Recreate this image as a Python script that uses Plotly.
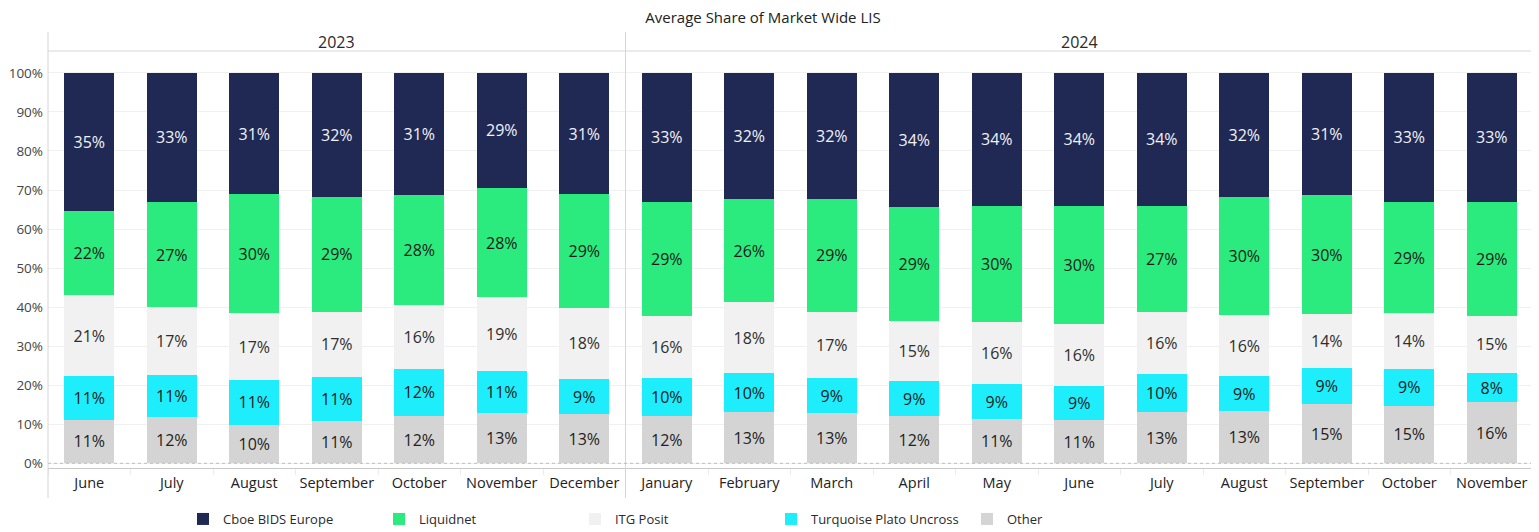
import plotly.graph_objects as go

# ---------------- data ----------------
years = ["2023"] * 7 + ["2024"] * 11
months = ["June", "July", "August", "September", "October", "November", "December",
          "January", "February", "March", "April", "May", "June", "July", "August",
          "September", "October", "November"]
other = [11.2, 11.8, 9.9, 10.9, 12.1, 12.8, 12.6,
         12.1, 13.1, 12.8, 12.1, 11.3, 11.1, 13.1, 13.3, 15.2, 14.8, 15.6]
turquoise = [11.2, 10.8, 11.4, 11.2, 12.1, 10.9, 9.0,
             9.7, 10.0, 9.0, 9.0, 9.0, 8.8, 9.9, 9.0, 9.1, 9.4, 7.6]
itg_posit = [20.6, 17.4, 17.2, 16.7, 16.3, 18.8, 18.2,
             16.0, 18.1, 17.0, 15.4, 16.0, 15.7, 15.8, 15.6, 13.9, 14.2, 14.6]
liquidnet = [21.6, 26.9, 30.4, 29.4, 28.2, 28.1, 29.1,
             29.1, 26.4, 28.9, 29.2, 29.7, 30.4, 27.2, 30.4, 30.4, 28.6, 29.1]
cboe = [35.4, 33.1, 31.1, 31.8, 31.3, 29.4, 31.1,
        33.1, 32.4, 32.3, 34.3, 34.0, 34.0, 34.0, 31.7, 31.4, 33.0, 33.1]
y_ticks = [0, 10, 20, 30, 40, 50, 60, 70, 80, 90, 100]

series = [
    ("Other", other, "#d4d4d4", "#222222"),
    ("Turquoise Plato Uncross", turquoise, "#1eedfb", "#1a1a1a"),
    ("ITG Posit", itg_posit, "#f0f1f0", "#2e2e2e"),
    ("Liquidnet", liquidnet, "#2beb7e", "#1a1a1a"),
    ("Cboe BIDS Europe", cboe, "#1f2954", "#f2f2f7"),
]

FONT = "Open Sans"
keys = [f"{y} {m}" for y, m in zip(years, months)]

fig = go.Figure()
for name, vals, color, tcolor in series:
    fig.add_trace(go.Bar(
        x=keys, y=vals, name=name,
        marker=dict(color=color, line=dict(width=0)),
        width=0.61,
        texttemplate="%{y:.0f}%",
        textposition="inside",
        insidetextanchor="middle",
        textangle=0,
        constraintext="none",
        textfont=dict(family=FONT, size=16, color=tcolor),
        hovertemplate=name + ": %{y:.1f}%<extra></extra>",
    ))

n2023 = years.count("2023")
n_all = len(years)
line_col = "#d6d6d6"

shapes = [
    # header bottom line
    dict(type="line", xref="paper", yref="paper", x0=0, x1=1, y0=1, y1=1,
         line=dict(color=line_col, width=1)),
    # panel verticals
    dict(type="line", xref="paper", yref="paper", x0=0, x1=0, y0=-0.072, y1=1.0456,
         line=dict(color=line_col, width=1)),
    dict(type="line", xref="x", yref="paper", x0=n2023 - 0.5, x1=n2023 - 0.5,
         y0=-0.072, y1=1.0456, line=dict(color=line_col, width=1)),
    dict(type="line", xref="paper", yref="paper", x0=1, x1=1, y0=-0.072, y1=1.0456,
         line=dict(color=line_col, width=1)),
    # dotted zero line
    dict(type="line", xref="paper", yref="y", x0=0, x1=1, y0=0, y1=0,
         line=dict(color="#bdbdbd", width=1, dash="dot")),
]

annotations = [
    dict(text="2023", xref="x", yref="paper", x=(n2023 - 1) / 2, y=1.0216,
         showarrow=False, yanchor="middle",
         font=dict(family=FONT, size=16, color="#2a2a2a")),
    dict(text="2024", xref="x", yref="paper", x=(n2023 + n_all - 1) / 2, y=1.0216,
         showarrow=False, yanchor="middle",
         font=dict(family=FONT, size=16, color="#2a2a2a")),
]

W, H = 1531, 524
fig.update_layout(
    width=W, height=H,
    margin=dict(l=40, r=6, t=43, b=64, autoexpand=False),
    paper_bgcolor="white", plot_bgcolor="white",
    barmode="stack",
    bargap=0.39,
    title=dict(text="Average Share of Market Wide LIS", x=755 / W, xanchor="center",
               y=1 - 10 / H, yanchor="middle", yref="container",
               font=dict(family=FONT, size=15, color="#222222")),
    font=dict(family=FONT, color="#333333"),
    xaxis=dict(
        type="category", range=[-0.5, n_all - 0.5],
        tickvals=keys, ticktext=months, tickangle=0, automargin=False,
        tickfont=dict(family=FONT, size=14.5, color="#222222"),
        showline=True, linecolor="#c8c8c8", linewidth=1,
        tickson="boundaries", ticks="outside", ticklen=6, tickcolor="#ececec",
        ticklabelstandoff=2,
        showgrid=False, zeroline=False, fixedrange=True,
    ),
    yaxis=dict(
        range=[-1.2, 105.6], automargin=False,
        tickvals=y_ticks, ticktext=[f"{v}%" for v in y_ticks],
        tickfont=dict(family=FONT, size=13.5, color="#444444"),
        ticklabelstandoff=4,
        showgrid=True, gridcolor="#f0f0f0", gridwidth=1,
        zeroline=False, showline=False, ticks="",
    ),
    legend=dict(
        orientation="h", traceorder="reversed",
        x=0.0909, xanchor="left", y=-0.1223, yanchor="middle",
        entrywidthmode="pixels", entrywidth=151,
        font=dict(family=FONT, size=13, color="#2a2a2a"),
        itemclick=False, itemdoubleclick=False,
    ),
    shapes=shapes,
    annotations=annotations,
    uniformtext=dict(mode="show", minsize=10),
    showlegend=True,
)

fig.write_html("out.html")
